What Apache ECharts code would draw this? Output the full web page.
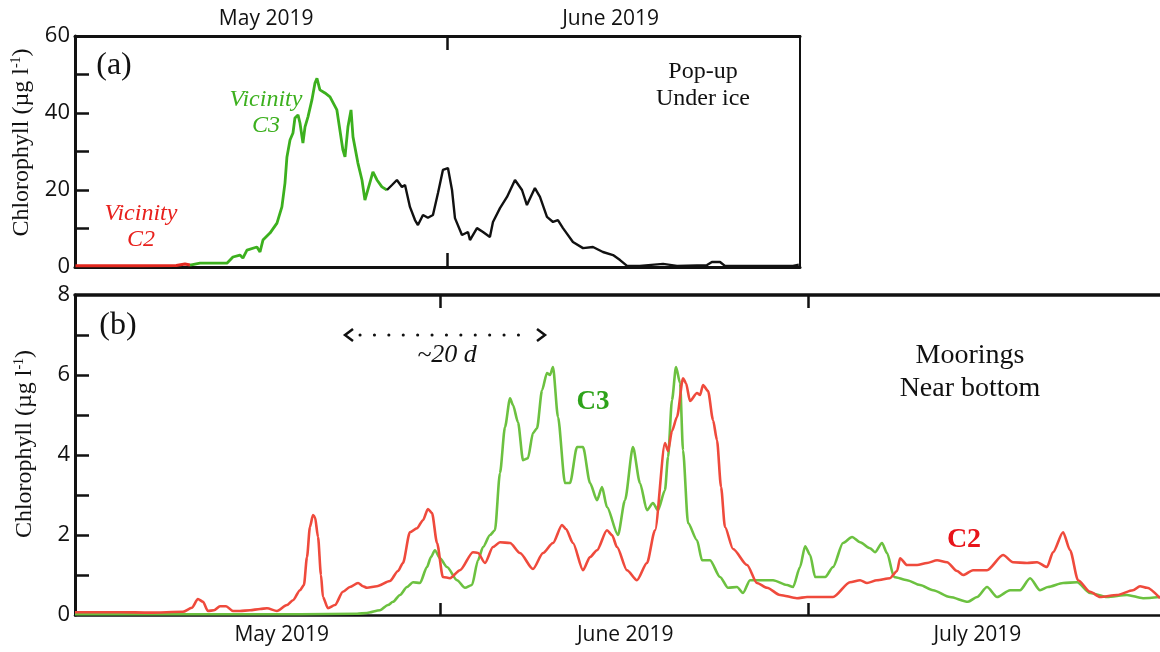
<!DOCTYPE html>
<html>
<head>
<meta charset="utf-8">
<script src="https://cdn.jsdelivr.net/npm/echarts@6/dist/echarts.min.js"></script>
<style>
  html, body { margin: 0; padding: 0; background: #fff; }
  #chart { width: 1160px; height: 652px; }
</style>
</head>
<body>
<div id="chart"></div>
<script>
// x values are days since 1 May 2019 (1 June = 31, 1 July = 61)

// Panel (a): pop-up profiler under ice, chlorophyll (µg l-1)
const popupC2 = [[0.8,0.3],[3,0.3],[6,0.35],[9,0.4],[9.7,0.8],[10.11,0.5]];
const popupC3 = [[10.11,0.5],[10.92,1.0],[11.98,1.0],[13.11,1.0],[13.60,2.6],[14.17,3.1],[14.41,2.3],[14.74,4.4],
  [15.55,5.2],[15.80,3.9],[16.04,7.0],[16.61,8.8],[17.18,11.4],[17.58,15.6],[17.83,21.8],[17.99,28.6],[18.24,33.0],
  [18.48,34.8],[18.64,38.7],[18.89,39.5],[19.05,37.4],[19.29,32.2],[19.46,36.4],[19.70,39.0],[20.02,43.4],[20.27,47.8],
  [20.43,49.0],[20.67,46.0],[21.08,45.2],[21.49,44.2],[21.65,44.7],[22.05,40.8],[22.54,30.4],[22.71,28.6],[22.95,36.4],
  [23.20,40.8],[23.36,33.8],[23.76,27.0],[24.09,22.6],[24.33,17.4],[24.74,22.0],[24.98,24.7],[25.31,22.6],[25.71,20.8],
  [26.12,20.0]];
const popupOther = [[26.12,20.0],[26.53,21.3],[26.93,22.6],[27.34,20.8],[27.59,21.3],[27.99,15.6],[28.40,12.2],[28.64,10.9],
  [29.05,13.5],[29.45,12.8],[29.86,13.5],[30.27,19.2],[30.67,25.2],[31.08,25.7],[31.41,20.0],[31.65,12.7],[32.22,8.3],
  [32.71,9.1],[32.87,7.0],[33.44,10.1],[33.93,9.1],[34.49,7.8],[34.74,11.7],[35.31,15.3],[35.88,18.2],[36.53,22.6],
  [37.10,20.0],[37.50,16.1],[38.15,20.5],[38.56,18.2],[39.13,13.0],[39.62,11.7],[40.02,12.2],[40.43,10.1],[41.24,6.5],
  [42.06,4.9],[42.87,5.2],[43.68,3.9],[44.50,3.1],[45.07,1.8],[45.64,0.3],[46.67,0.3],[48.57,0.8],[49.70,0.3],
  [52.14,0.5],[52.54,1.3],[53.20,1.3],[53.60,0.3],[59.13,0.3],[59.6,0.6]];

// Panel (b): moorings near bottom, chlorophyll (µg l-1)
const mooringC2 = [[1.25,0.07],[4.91,0.07],[7.36,0.06],[10.05,0.08],[10.78,0.18],[11.27,0.4],[11.68,0.33],[12.09,0.1],
  [12.58,0.12],[13.07,0.22],[13.56,0.22],[14.13,0.1],[14.70,0.1],[15.51,0.12],[16.33,0.15],[16.90,0.17],[17.71,0.1],
  [18.53,0.25],[19.02,0.37],[19.59,0.62],[19.91,0.75],[20.16,1.45],[20.40,2.2],[20.65,2.5],[20.81,2.45],[21.06,1.95],
  [21.30,1.0],[21.46,0.45],[21.87,0.17],[22.44,0.25],[23.09,0.58],[23.66,0.7],[24.32,0.8],[24.72,0.72],[25.05,0.68],
  [25.86,0.72],[26.92,0.85],[27.58,1.1],[27.98,1.3],[28.55,2.07],[29.13,2.17],[29.61,2.37],[30.02,2.65],[30.35,2.55],
  [30.76,1.8],[31.24,0.95],[31.82,0.92],[32.63,1.12],[33.69,1.57],[34.10,1.55],[34.67,1.3],[35.32,1.7],[35.89,1.82],
  [36.71,1.8],[37.52,1.55],[38.58,1.15],[39.40,1.55],[40.21,1.8],[40.95,2.25],[41.27,2.15],[41.84,1.8],[42.66,1.12],
  [43.23,1.45],[43.80,1.62],[44.61,2.12],[45.02,2.0],[45.43,1.7],[46.24,1.12],[47.06,0.87],[47.87,1.3],[48.53,2.12],
  [49.34,4.3],[49.59,4.1],[49.91,4.6],[50.32,4.95],[50.81,5.92],[51.05,5.8],[51.38,5.35],[51.95,5.55],[52.20,5.5],
  [52.44,5.75],[52.85,5.6],[53.26,4.87],[53.58,4.37],[53.91,3.2],[54.23,2.2],[54.89,1.65],[56.03,1.25],[56.84,0.8],
  [57.66,0.68],[58.72,0.5],[60.10,0.42],[60.92,0.45],[61.98,0.45],[63.04,0.45],[64.42,0.82],[65.24,0.87],[65.81,0.8],
  [66.62,0.87],[67.68,0.92],[68.26,1.1],[68.50,1.42],[69.07,1.25],[69.89,1.25],[70.70,1.3],[71.52,1.37],[72.33,1.32],
  [73.15,1.1],[73.64,1.0],[74.45,1.12],[75.59,1.12],[76.90,1.5],[77.71,1.32],[78.85,1.3],[79.67,1.32],[80.48,1.2],
  [80.97,1.57],[81.79,2.07],[82.36,1.62],[83.01,0.87],[83.99,0.58],[84.80,0.45],[86.19,0.5],[87.49,0.62],[88.06,0.72],
  [88.63,0.68],[89.69,0.42]];
const mooringC3 = [[1.25,0.02],[11.44,0.02],[19.59,0.02],[24.24,0.03],[25.05,0.05],[26.11,0.12],[26.76,0.25],[27.17,0.33],
  [27.74,0.5],[28.31,0.7],[28.80,0.82],[29.37,0.8],[29.94,1.2],[30.27,1.45],[30.59,1.62],[31.00,1.42],[31.57,1.2],
  [32.39,0.87],[33.04,0.68],[33.61,0.75],[34.10,1.37],[34.51,1.7],[35.08,2.0],[35.48,2.12],[35.89,3.55],[36.30,4.7],
  [36.71,5.42],[36.95,5.25],[37.36,4.82],[37.77,3.87],[38.17,3.92],[38.58,4.55],[38.91,4.67],[39.32,5.62],[39.72,6.05],
  [39.97,6.0],[40.21,6.2],[40.62,4.95],[41.19,3.3],[41.60,3.3],[42.17,4.2],[42.66,4.2],[43.23,3.3],[43.80,2.87],
  [44.21,3.2],[44.61,2.7],[45.51,2.0],[46.08,2.87],[46.73,4.2],[47.30,3.3],[47.87,2.62],[48.36,2.8],[48.77,2.62],
  [49.34,3.12],[49.59,3.95],[49.91,5.37],[50.24,6.2],[50.57,5.8],[50.81,4.12],[51.22,2.3],[51.95,1.87],[52.36,1.37],
  [53.01,1.37],[53.83,0.95],[54.48,0.68],[55.21,0.7],[55.70,0.55],[56.27,0.87],[57.09,0.87],[58.15,0.87],[59.29,0.75],
  [59.78,0.7],[60.35,1.2],[60.76,1.72],[61.17,1.5],[61.58,0.95],[62.40,0.95],[63.04,1.2],[63.85,1.8],[64.59,1.95],
  [65.24,1.82],[66.05,1.67],[66.46,1.57],[67.03,1.8],[67.44,1.55],[68.01,0.95],[69.07,0.87],[70.13,0.75],[71.19,0.62],
  [72.57,0.45],[74.04,0.33],[74.78,0.45],[75.59,0.7],[76.41,0.45],[77.47,0.62],[78.28,0.62],[79.10,0.92],[79.91,0.62],
  [80.56,0.7],[81.79,0.8],[82.93,0.82],[83.99,0.55],[85.37,0.45],[87.00,0.5],[88.31,0.42],[89.69,0.45]];

// month boundaries (ticks) and month-name label anchors, in days since 1 May
const monthNames = ['May 2019', 'June 2019', 'July 2019'];
const monthStarts = [31, 61];
const topMonthLabelDays = [16.3, 44.3];
const bottomMonthLabelDays = [18.1, 46.1, 74.8];
const topYLabels = [0, 20, 40, 60];
const topYTicks = [10, 20, 30, 40, 50];
const bottomYLabels = [0, 2, 4, 6, 8];
const bottomYTicks = [1, 2, 3, 4, 5, 6, 7];

const SERIF = '"Liberation Serif", "Times New Roman", serif';
const SANS = '"Open Sans", "Noto Sans", sans-serif';
const INK = '#111';

function monthLabel(positions) {
  return function (v) {
    let best = 0;
    positions.forEach(function (p, i) { if (Math.abs(p - v) < Math.abs(positions[best] - v)) best = i; });
    return monthNames[best];
  };
}

const yName = '{t|Chlorophyll (µg l}{s|-1}{t|)}';
function yNameStyle(shift) {
  return {
    padding: [0, 0, 0, shift],
    rich: {
      t: { fontFamily: SERIF, fontSize: 24, color: INK },
      s: { fontFamily: SERIF, fontSize: 14, color: INK, padding: [0, 0, 11, 0] }
    }
  };
}

const chart = echarts.init(document.getElementById('chart'), null, { renderer: 'canvas' });

chart.setOption({
  backgroundColor: '#fff',
  animation: false,
  grid: [
    { left: 75, top: 36, width: 725, height: 231 },
    { left: 75, top: 295, right: 0, height: 320 }
  ],
  xAxis: [
    { // panel (a) bottom
      type: 'value', gridIndex: 0, position: 'bottom', min: 0.76, max: 59.70,
      axisLine: { show: true, onZero: false, lineStyle: { color: INK, width: 3 } },
      axisTick: { show: true, inside: true, length: 14, customValues: monthStarts, lineStyle: { color: INK, width: 2.5 } },
      axisLabel: { show: false }, splitLine: { show: false }
    },
    { // panel (a) top
      type: 'value', gridIndex: 0, position: 'top', min: 0.76, max: 59.70,
      axisLine: { show: true, onZero: false, lineStyle: { color: INK, width: 3 } },
      axisTick: { show: true, inside: true, length: 14, customValues: monthStarts, lineStyle: { color: INK, width: 2.5 } },
      axisLabel: { show: true, margin: 6, customValues: topMonthLabelDays, formatter: monthLabel(topMonthLabelDays),
        fontFamily: SANS, fontSize: 21, color: INK },
      splitLine: { show: false }
    },
    { // panel (b) bottom
      type: 'value', gridIndex: 1, position: 'bottom', min: 1.25, max: 89.69,
      axisLine: { show: true, onZero: false, lineStyle: { color: INK, width: 2.5 } },
      axisTick: { show: true, inside: true, length: 12, customValues: monthStarts, lineStyle: { color: INK, width: 2.5 } },
      axisLabel: { show: true, margin: 10, customValues: bottomMonthLabelDays, formatter: monthLabel(bottomMonthLabelDays),
        fontFamily: SANS, fontSize: 21, color: INK },
      splitLine: { show: false }
    },
    { // panel (b) top
      type: 'value', gridIndex: 1, position: 'top', min: 1.25, max: 89.69,
      axisLine: { show: true, onZero: false, lineStyle: { color: INK, width: 3.5 } },
      axisTick: { show: true, inside: true, length: 13, customValues: monthStarts, lineStyle: { color: INK, width: 2.5 } },
      axisLabel: { show: false }, splitLine: { show: false }
    }
  ],
  yAxis: [
    {
      type: 'value', gridIndex: 0, position: 'left', min: 0, max: 60,
      axisLine: { show: true, onZero: false, lineStyle: { color: INK, width: 3 } },
      axisTick: { show: true, inside: true, length: 14, customValues: topYTicks, lineStyle: { color: INK, width: 2.5 } },
      axisLabel: { show: true, margin: 5, customValues: topYLabels, fontFamily: SANS, fontSize: 22, color: INK },
      splitLine: { show: false },
      name: yName, nameLocation: 'middle', nameRotate: 90, nameGap: 36, nameTextStyle: yNameStyle(18)
    },
    {
      type: 'value', gridIndex: 0, position: 'right', min: 0, max: 60,
      axisLine: { show: true, onZero: false, lineStyle: { color: INK, width: 2 } },
      axisTick: { show: false }, axisLabel: { show: false }, splitLine: { show: false }
    },
    {
      type: 'value', gridIndex: 1, position: 'left', min: 0, max: 8,
      axisLine: { show: true, onZero: false, lineStyle: { color: INK, width: 3 } },
      axisTick: { show: true, inside: true, length: 14, customValues: bottomYTicks, lineStyle: { color: INK, width: 2.5 } },
      axisLabel: { show: true, margin: 5, customValues: bottomYLabels, fontFamily: SANS, fontSize: 22, color: INK },
      splitLine: { show: false },
      name: yName, nameLocation: 'middle', nameRotate: 90, nameGap: 38, nameTextStyle: yNameStyle(22)
    }
  ],
  series: [
    { name: 'Vicinity C2', type: 'line', xAxisIndex: 0, yAxisIndex: 0, data: popupC2, showSymbol: false, clip: false,
      lineStyle: { color: '#e3281f', width: 3 } },
    { name: 'Vicinity C3', type: 'line', xAxisIndex: 0, yAxisIndex: 0, data: popupC3, showSymbol: false, clip: false,
      lineStyle: { color: '#3cb01e', width: 2.8 } },
    { name: 'Pop-up', type: 'line', xAxisIndex: 0, yAxisIndex: 0, data: popupOther, showSymbol: false, clip: false,
      lineStyle: { color: '#111', width: 2.4 } },
    { name: 'C3', type: 'line', xAxisIndex: 2, yAxisIndex: 2, data: mooringC3, showSymbol: false, clip: false,
      smooth: 0.25, smoothMonotone: 'x', lineStyle: { color: '#6cc140', width: 2.6 } },
    { name: 'C2', type: 'line', xAxisIndex: 2, yAxisIndex: 2, data: mooringC2, showSymbol: false, clip: false,
      smooth: 0.25, smoothMonotone: 'x', lineStyle: { color: '#ef4a3c', width: 2.6 } }
  ],
  graphic: [
    { type: 'text', x: 114, y: 66, style: { text: '(a)', font: '32px ' + SERIF, fill: INK, align: 'center', verticalAlign: 'middle' } },
    { type: 'text', x: 266, y: 113, style: { text: 'Vicinity\nC3', font: 'italic 24px ' + SERIF, lineHeight: 26,
      fill: '#3cb01e', align: 'center', verticalAlign: 'middle' } },
    { type: 'text', x: 141, y: 227, style: { text: 'Vicinity\nC2', font: 'italic 24px ' + SERIF, lineHeight: 26,
      fill: '#e8201c', align: 'center', verticalAlign: 'middle' } },
    { type: 'text', x: 703, y: 85, style: { text: 'Pop-up\nUnder ice', font: '24px ' + SERIF, lineHeight: 27,
      fill: INK, align: 'center', verticalAlign: 'middle' } },
    { type: 'text', x: 118, y: 326, style: { text: '(b)', font: '32px ' + SERIF, fill: INK, align: 'center', verticalAlign: 'middle' } },
    { type: 'text', x: 447, y: 355, style: { text: '~20 d', font: 'italic 26px ' + SERIF, fill: INK, align: 'center', verticalAlign: 'middle' } },
    { type: 'text', x: 593, y: 402, style: { text: 'C3', font: 'bold 27px ' + SERIF, fill: '#2ea31a', align: 'center', verticalAlign: 'middle' } },
    { type: 'text', x: 970, y: 372, style: { text: 'Moorings\nNear bottom', font: '28px ' + SERIF, lineHeight: 33,
      fill: INK, align: 'center', verticalAlign: 'middle' } },
    { type: 'text', x: 964, y: 540, style: { text: 'C2', font: 'bold 28px ' + SERIF, fill: '#e8141a', align: 'center', verticalAlign: 'middle' } },
    // ~20 d lag: dotted double-headed arrow
    { type: 'line', shape: { x1: 360, y1: 335, x2: 532, y2: 335 },
      style: { stroke: INK, lineWidth: 3, lineCap: 'round', lineDash: [0.1, 14.3] } },
    { type: 'polyline', shape: { points: [[353, 329], [345, 335], [353, 341]] },
      style: { stroke: INK, lineWidth: 2.5, fill: null } },
    { type: 'polyline', shape: { points: [[537, 329], [545, 335], [537, 341]] },
      style: { stroke: INK, lineWidth: 2.5, fill: null } }
  ]
});
</script>
</body>
</html>
